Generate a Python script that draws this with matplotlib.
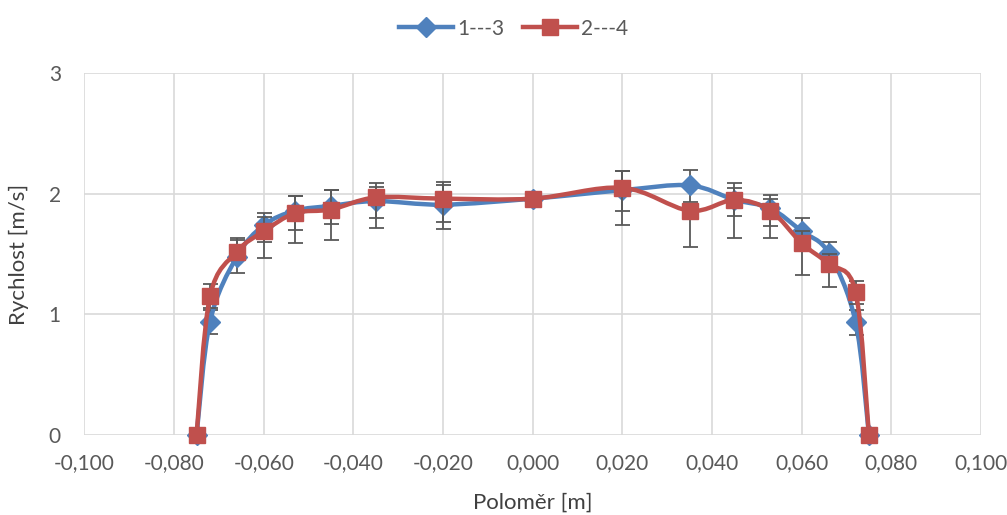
import matplotlib
matplotlib.use('Agg')
import matplotlib.pyplot as plt
import numpy as np
from matplotlib.path import Path
from matplotlib.patches import PathPatch
from matplotlib.lines import Line2D
from matplotlib.ticker import FuncFormatter

plt.rcParams['font.family'] = ['Lato', 'DejaVu Sans']

# ---- data ----
radius = [-0.075, -0.072, -0.066, -0.060, -0.053, -0.045, -0.035, -0.020, 0.000,
          0.020, 0.035, 0.045, 0.053, 0.060, 0.066, 0.072, 0.075]

v13 = [0.00, 0.94, 1.48, 1.74, 1.86, 1.90, 1.94, 1.91, 1.96,
       2.03, 2.07, 1.95, 1.88, 1.69, 1.51, 0.94, 0.00]
v13_err_lo = [0, 0.10, 0.14, 0.14, 0.27, 0.15, 0.22, 0.20, 0,
              0.17, 0.14, 0.13, 0.15, 0.15, 0.10, 0.11, 0]
v13_err_hi = [0, 0.10, 0.14, 0.10, 0.12, 0.13, 0.15, 0.19, 0,
              0.16, 0.13, 0.14, 0.11, 0.11, 0.09, 0.10, 0]

v24 = [0.00, 1.15, 1.52, 1.69, 1.84, 1.87, 1.97, 1.96, 1.96,
       2.05, 1.86, 1.95, 1.86, 1.59, 1.42, 1.19, 0.00]
v24_err_lo = [0, 0.10, 0.05, 0.22, 0.14, 0.25, 0.17, 0.19, 0,
              0.31, 0.30, 0.32, 0.23, 0.26, 0.19, 0.10, 0]
v24_err_hi = [0, 0.10, 0.11, 0.12, 0.14, 0.16, 0.09, 0.11, 0,
              0.14, 0.05, 0.10, 0.10, 0.10, 0.08, 0.09, 0]

labels = ['1---3', '2---4']
colors = ['#4F81BD', '#C0504D']
markers = ['D', 's']
msizes = [10, 12]

TXT = '#595959'
TITLE = '#404040'
GRID = '#D9D9D9'


def smooth_path(x, y):
    # Excel-like smoothed line: Catmull-Rom segments as cubic Bezier curves
    x = np.asarray(x, float)
    y = np.asarray(y, float)
    n = len(x)
    verts = [(x[0], y[0])]
    codes = [Path.MOVETO]
    for i in range(n - 1):
        i0 = max(i - 1, 0)
        i3 = min(i + 2, n - 1)
        c1 = (x[i] + (x[i + 1] - x[i0]) / 6, y[i] + (y[i + 1] - y[i0]) / 6)
        c2 = (x[i + 1] - (x[i3] - x[i]) / 6, y[i + 1] - (y[i3] - y[i]) / 6)
        verts += [c1, c2, (x[i + 1], y[i + 1])]
        codes += [Path.CURVE4] * 3
    return Path(verts, codes)


fig = plt.figure(figsize=(10.07, 5.15), dpi=100)
ax = fig.add_axes([0.0839, 0.155, 0.8903, 0.703])

series = [(v13, v13_err_lo, v13_err_hi), (v24, v24_err_lo, v24_err_hi)]

for k, (vals, elo, ehi) in enumerate(series):
    ax.errorbar(radius, vals, yerr=[elo, ehi], fmt='none', ecolor='#595959',
                elinewidth=1.3, capsize=5.4, capthick=1.3, zorder=2 + 2 * k)
    patch = PathPatch(smooth_path(radius, vals), facecolor='none',
                      edgecolor=colors[k], lw=3.2, zorder=3 + 2 * k,
                      capstyle='round', joinstyle='round')
    ax.add_patch(patch)
    ax.plot(radius, vals, linestyle='none', marker=markers[k], ms=msizes[k],
            color=colors[k], zorder=3 + 2 * k, clip_on=False)

ax.set_xlim(-0.1, 0.1)
ax.set_ylim(0, 3)
ax.set_xticks(np.arange(-0.1, 0.1001, 0.02))
ax.set_yticks([0, 1, 2, 3])
ax.xaxis.set_major_formatter(FuncFormatter(lambda v, p: f'{v:.3f}'.replace('.', ',')))
ax.yaxis.set_major_formatter(FuncFormatter(lambda v, p: f'{v:.0f}'))

ax.grid(True, color=GRID, lw=1.2)
ax.set_axisbelow(True)
for s in ax.spines.values():
    s.set_visible(False)
ax.tick_params(length=0, labelsize=15, colors=TXT)
ax.tick_params(axis='x', pad=13)
ax.tick_params(axis='y', pad=17)

ax.set_xlabel('Poloměr [m]', fontsize=16, color=TITLE, labelpad=14)
ax.set_ylabel('Rychlost [m/s]', fontsize=16, color=TITLE, labelpad=14)

handles = [Line2D([0], [0], color=colors[k], lw=3.2, marker=markers[k], ms=msizes[k])
           for k in range(2)]
fig.legend(handles, labels, loc='upper center', bbox_to_anchor=(0.51, 1.0),
           ncol=2, frameon=False, fontsize=15, labelcolor=TXT,
           handlelength=2.6, handletextpad=0.2, columnspacing=0.9)

fig.savefig('out.png', dpi=100)
